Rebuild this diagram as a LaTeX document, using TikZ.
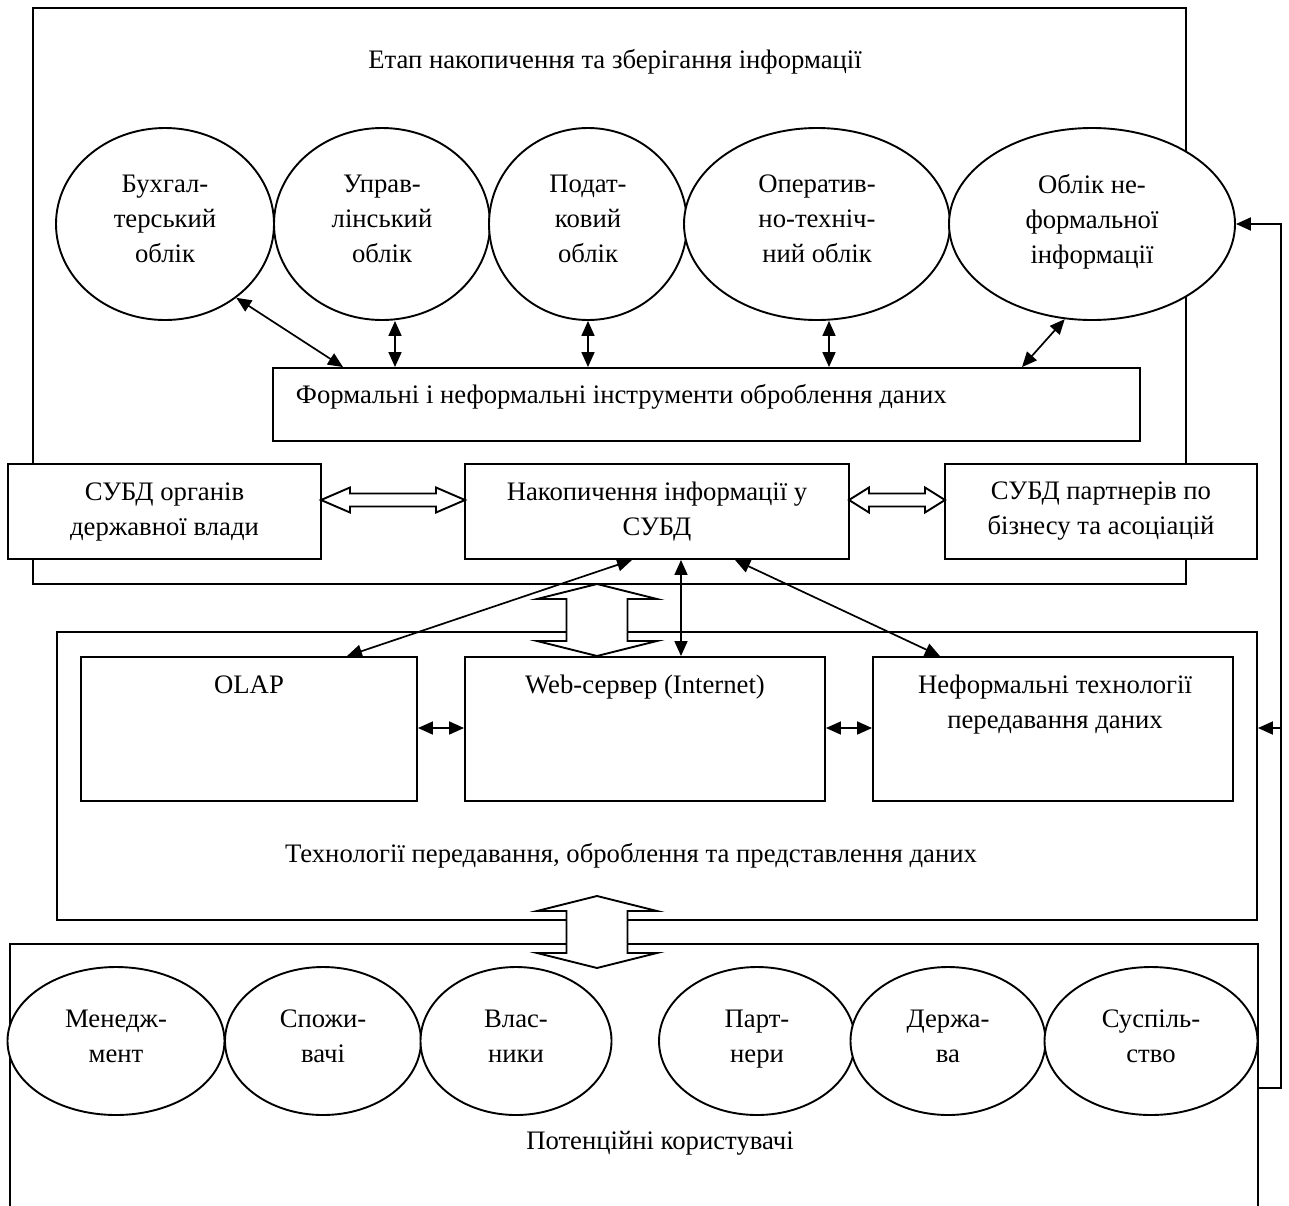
\documentclass[tikz,border=0pt]{standalone}
\usepackage{fontspec}
\setmainfont{Liberation Serif}
\usetikzlibrary{arrows.meta,shapes.geometric}
\begin{document}
\begin{tikzpicture}[x=1pt,y=-1pt, line width=1.9pt,
  every node/.style={font=\fontsize{26.7}{35}\selectfont},
  ell/.style={ellipse, draw, fill=white, inner sep=0pt, align=center,
    execute at begin node=\strut, execute at end node=\strut},
  box/.style={rectangle, draw, fill=white, inner sep=0pt},
  frame/.style={rectangle, draw, inner sep=0pt},
  txt/.style={inner sep=0pt, align=center},
  tip/.style={{Triangle[length=15pt,width=13pt]}-{Triangle[length=15pt,width=13pt]}, line width=1.7pt},
  onetip/.style={-{Triangle[length=15pt,width=13pt]}, line width=1.9pt},
  hollow/.style={draw, fill=white, line width=1.9pt, line join=miter}
]
\useasboundingbox (0,0) rectangle (1289,1205);
\clip (0,0) rectangle (1289,1205);

% top frame
\node[frame, minimum width=1153pt, minimum height=576pt] (TF) at (609.5,296) {};
\node[txt] (TFt) at (615,62) {Етап накопичення та зберігання інформації};

% top ellipses
\node[ell, minimum width=218pt, minimum height=192pt] (E1) at (165,224) {Бухгал-\\терський\\облік};
\node[ell, minimum width=216pt, minimum height=192pt] (E2) at (382,224) {Управ-\\лінський\\облік};
\node[ell, minimum width=198pt, minimum height=192pt] (E3) at (588,224) {Подат-\\ковий\\облік};
\node[ell, minimum width=266pt, minimum height=192pt] (E4) at (817,224) {Оператив-\\но-техніч-\\ний облік};
\node[ell, minimum width=286pt, minimum height=192pt] (E5) at (1092,224) {Облік не-\\формальної\\інформації};

% formal tools box
\node[box, minimum width=867pt, minimum height=73pt] (F) at (706.5,404.5) {};
\node[txt, anchor=west] (Ft) at (295,397) {Формальні і неформальні інструменти оброблення даних};

\draw[tip] (E1.-46) -- (343,0 |- F.north);
\draw[tip] (395,0 |- E2.south) -- (395,0 |- F.north);
\draw[tip] (588,0 |- E3.south) -- (588,0 |- F.north);
\draw[tip] (829,0 |- E4.south) -- (829,0 |- F.north);
\draw[tip] (E5.-106) -- (1022,0 |- F.north);

% DBMS row
\node[box, minimum width=313pt, minimum height=95pt, align=center] (L) at (164.5,511.5) {СУБД органів\\державної влади};
\node[box, minimum width=384pt, minimum height=95pt, align=center] (C) at (657,511.5) {Накопичення інформації у\\СУБД};
\node[box, minimum width=312pt, minimum height=95pt, align=center] (R) at (1101,511.5) {СУБД партнерів по\\бізнесу та асоціацій};

\draw[hollow] (321,500) -- (350,487.5) -- (350,493.5) -- (436,493.5) -- (436,487.5) -- (465,500)
  -- (436,512.5) -- (436,506.5) -- (350,506.5) -- (350,512.5) -- cycle;
\draw[hollow] (849,500) -- (869,487.5) -- (869,493.5) -- (925,493.5) -- (925,487.5) -- (945,500)
  -- (925,512.5) -- (925,506.5) -- (869,506.5) -- (869,512.5) -- cycle;

% middle frame
\node[frame, minimum width=1200pt, minimum height=288pt] (MF) at (657,776) {};
\node[box, minimum width=336pt, minimum height=144pt] (O) at (249,729) {};
\node[box, minimum width=360pt, minimum height=144pt] (W) at (645,729) {};
\node[box, minimum width=360pt, minimum height=144pt] (N) at (1053,729) {};
\node[txt] (Ot) at (249,685) {OLAP};
\node[txt] (Wt) at (645,687) {Web-сервер (Internet)};
\node[txt] (Nt) at (1055,704.5) {Неформальні технології\\передавання даних};
\node[txt] (MFt) at (631,856) {Технології передавання, оброблення та представлення даних};

\draw[hollow] (597,584) -- (657,599) -- (627.5,599) -- (627.5,641) -- (657,641) -- (597,656)
  -- (537,641) -- (566.5,641) -- (566.5,599) -- (537,599) -- cycle;

\draw[tip] (632,0 |- C.south) -- (347,0 |- O.north);
\draw[tip] (681,0 |- C.south) -- (681,0 |- W.north);
\draw[tip] (735,0 |- C.south) -- (940,0 |- N.north);
\draw[tip] (O.east |- 0,728) -- (W.west |- 0,728);
\draw[tip] (W.east |- 0,728) -- (N.west |- 0,728);

% bottom frame
\node[frame, minimum width=1248pt, minimum height=286pt] (BF) at (634,1087) {};
\node[ell, minimum width=217pt, minimum height=148pt] (B1) at (116,1041) {Менедж-\\мент};
\node[ell, minimum width=196pt, minimum height=148pt] (B2) at (323,1041) {Спожи-\\вачі};
\node[ell, minimum width=191pt, minimum height=148pt] (B3) at (516,1041) {Влас-\\ники};
\node[ell, minimum width=196pt, minimum height=148pt] (B4) at (757,1041) {Парт-\\нери};
\node[ell, minimum width=195pt, minimum height=148pt] (B5) at (948,1041) {Держа-\\ва};
\node[ell, minimum width=213pt, minimum height=148pt] (B6) at (1151,1041) {Суспіль-\\ство};
\node[txt] (BFt) at (660,1143) {Потенційні користувачі};

\draw[hollow] (597,896) -- (657,911) -- (627.5,911) -- (627.5,953) -- (657,953) -- (597,968)
  -- (537,953) -- (566.5,953) -- (566.5,911) -- (537,911) -- cycle;

% feedback line
\coordinate (fbB) at (1281,1088);
\coordinate (fbM) at (1281,728);
\coordinate (fbT) at (1281,224);
\draw[onetip] (BF.east |- fbB) -- (fbB) -- (fbT) -- (E5.east);
\draw[onetip] (fbM) -- (MF.east |- fbM);
\end{tikzpicture}
\end{document}
